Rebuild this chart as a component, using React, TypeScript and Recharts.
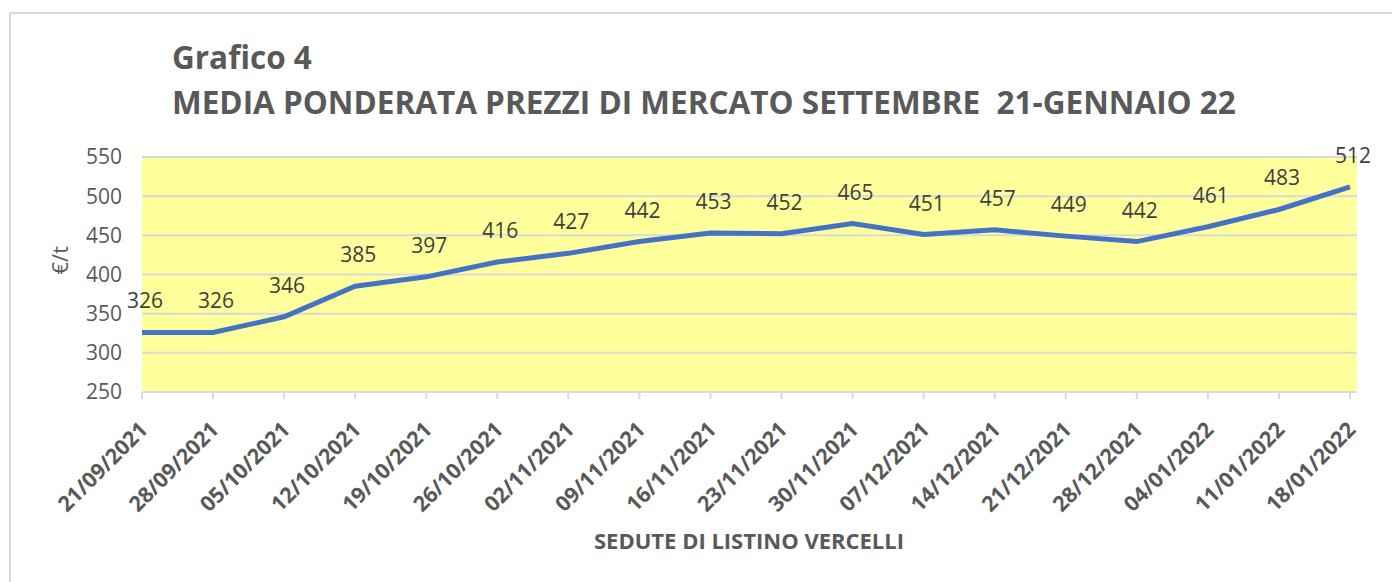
import React from 'react';
import { LineChart, Line, XAxis, YAxis, CartesianGrid, LabelList } from 'recharts';

// Date delle sedute
const sedute: string[] = [
  '21/09/2021', '28/09/2021', '05/10/2021', '12/10/2021', '19/10/2021', '26/10/2021',
  '02/11/2021', '09/11/2021', '16/11/2021', '23/11/2021', '30/11/2021', '07/12/2021',
  '14/12/2021', '21/12/2021', '28/12/2021', '04/01/2022', '11/01/2022', '18/01/2022',
];

// Media ponderata (€/t)
const prezzi: number[] = [326, 326, 346, 385, 397, 416, 427, 442, 453, 452, 465, 451, 457, 449, 442, 461, 483, 512];

const yTicks: number[] = [250, 300, 350, 400, 450, 500, 550];

const chartData = sedute.map((d, i) => ({ data: d, prezzo: prezzi[i] }));

const FONT = '"Open Sans", sans-serif';

const DateTick = (props: any) => {
  const { x, y, payload } = props;
  return (
    <text
      x={0}
      y={0}
      transform={`translate(${x + 7},${y + 30}) rotate(-45)`}
      textAnchor="end"
      fontFamily={FONT}
      fontWeight={700}
      fontSize={21.5}
      fill="#595959"
    >
      {payload.value}
    </text>
  );
};

const ValueLabel = (props: any) => {
  const { x, y, value } = props;
  return (
    <text x={x + 3} y={y - 32} textAnchor="middle" dominantBaseline="central" fontFamily={FONT} fontSize={21} fill="#404040">
      {value}
    </text>
  );
};

export default function App() {
  return (
    <div style={{ position: 'absolute', left: 0, top: 0, width: 1392, height: 582, overflow: 'hidden', background: '#fff' }}>
      {/* cornice del grafico */}
      <div style={{ position: 'absolute', left: 9, top: 12, width: 1420, height: 620, border: '2px solid #d9d9d9', boxSizing: 'border-box' }} />
      <div style={{ position: 'absolute', left: 172, top: 34, fontFamily: FONT, fontWeight: 700, fontSize: 31.5, color: '#595959', lineHeight: '45px', whiteSpace: 'pre' }}>
        {'Grafico 4\nMEDIA PONDERATA PREZZI DI MERCATO SETTEMBRE  21-GENNAIO 22'}
      </div>
      <div style={{ position: 'absolute', left: 0, top: 0 }}>
        <LineChart width={1392} height={582} data={chartData} margin={{ top: 157, right: 35, left: 62, bottom: 60 }}>
          <CartesianGrid horizontal vertical={false} fill="#FFFF9B" stroke="#d9d9d9" strokeWidth={2} />
          <XAxis
            dataKey="data"
            interval={0}
            height={130}
            padding={{ left: 0, right: 7 }}
            tick={<DateTick />}
            tickSize={7}
            axisLine={{ stroke: '#d9d9d9', strokeWidth: 2 }}
            tickLine={{ stroke: '#d9d9d9', strokeWidth: 2 }}
          />
          <YAxis
            width={80}
            domain={[250, 550]}
            ticks={yTicks}
            interval={0}
            axisLine={false}
            tickLine={false}
            tickMargin={14}
            tick={{ fill: '#595959', fontFamily: FONT, fontSize: 21 }}
            label={{ value: '€/t', angle: -90, position: 'insideLeft', offset: -2, fill: '#595959', fontFamily: FONT, fontSize: 22 }}
          />
          <Line type="linear" dataKey="prezzo" stroke="#4472C4" strokeWidth={5} dot={false} isAnimationActive={false}>
            <LabelList dataKey="prezzo" content={<ValueLabel />} />
          </Line>
          <text x={749} y={549} textAnchor="middle" fontFamily={FONT} fontWeight={700} fontSize={22} fill="#595959">
            SEDUTE DI LISTINO VERCELLI
          </text>
        </LineChart>
      </div>
    </div>
  );
}
